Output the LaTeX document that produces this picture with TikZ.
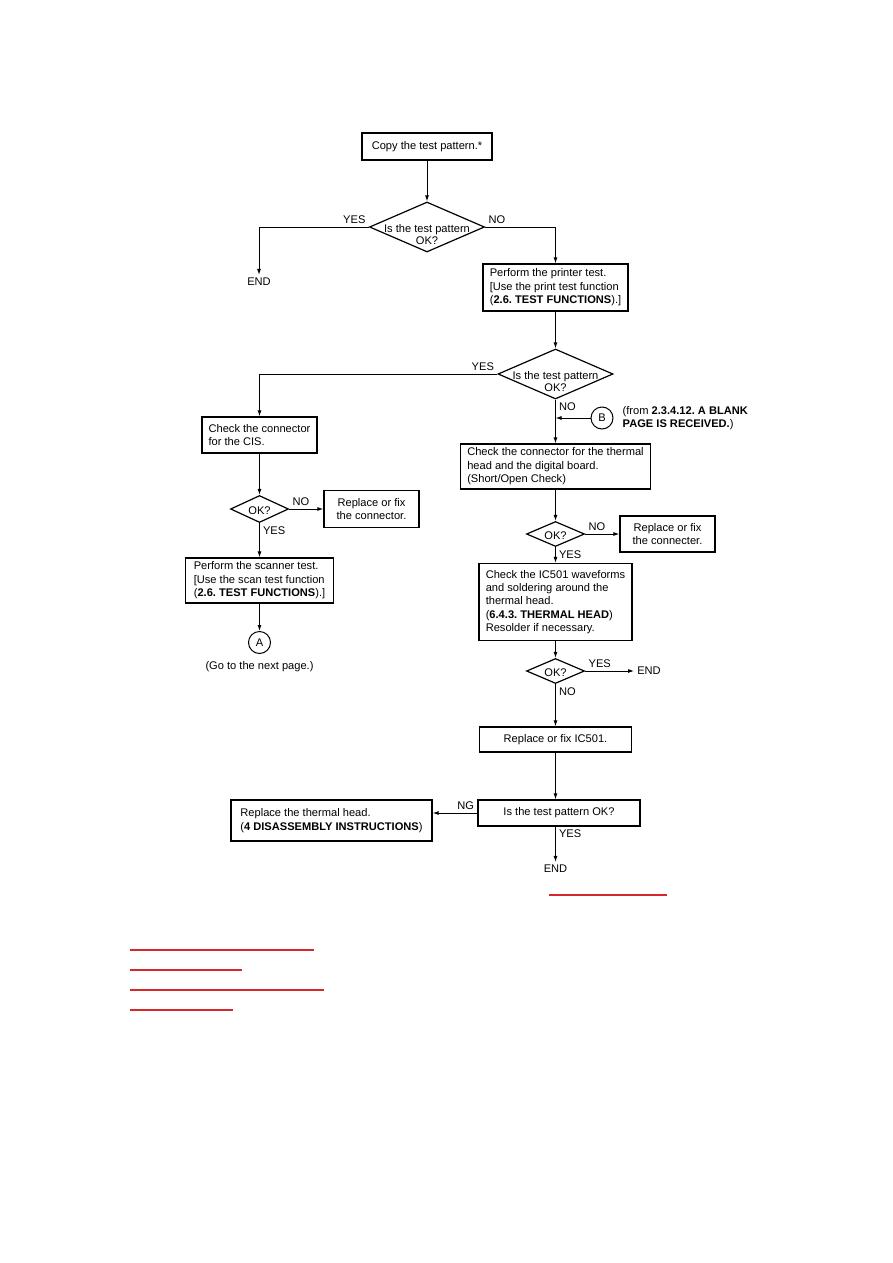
\documentclass[tikz,border=0pt]{standalone}
\usepackage{fontspec}
\setmainfont{Liberation Sans}
\usetikzlibrary{shapes.geometric, positioning, arrows.meta}

\definecolor{linkred}{RGB}{214,40,40}
\newcommand{\dtxt}[1]{\makebox[0pt]{\begin{tabular}[t]{@{}c@{}}#1\end{tabular}}}

\tikzset{
  box/.style={draw, line width=1.2pt, align=left, inner xsep=2pt, inner ysep=2pt},
  cbox/.style={box, align=center},
  decision/.style={draw, diamond, line width=1.2pt, inner sep=0pt, text height=10pt, text depth=0pt},
  conn/.style={draw, circle, line width=1pt, inner sep=0pt, minimum size=22pt},
  lbl/.style={inner sep=3pt},
  flow/.style={->, line width=1pt},
  underline/.style={linkred, line width=1.2pt}
}

\begin{document}
\begin{tikzpicture}[x=1pt, y=-1pt, on grid, >={Latex[length=6pt,width=4pt]},
    font=\fontsize{11.1}{13.4}\selectfont\frenchspacing]
  \useasboundingbox (0,0) rectangle (893,1263);

  % main column
  \node[cbox, minimum width=130pt, minimum height=27pt] (copy) at (427,146.5) {Copy the test pattern.*};
  \node[decision, minimum width=115pt, minimum height=50pt] (dec1) [below=80.5pt of copy] {\dtxt{Is the test pattern\\[-1pt]OK?}};
  \node[lbl] (endA) [below left=55pt and 168pt of dec1] {END};
  \node[box, minimum width=145pt, minimum height=47pt] (print) [below right=60.5pt and 128.5pt of dec1]
    {Perform the printer test.\\{}[Use the print test function\\(\textbf{2.6. TEST FUNCTIONS}).]};
  \node[decision, minimum width=115pt, minimum height=50pt] (dec2) [below=86.5pt of print] {\dtxt{Is the test pattern\\[-1pt]OK?}};
  \node[conn] (conB) [below right=44pt and 46.5pt of dec2] {B};
  \node[lbl, anchor=west, align=left] (fromB) at ([xshift=6pt]conB.east)
    {(from \textbf{2.3.4.12. A BLANK}\\\textbf{PAGE IS RECEIVED.})};
  \node[box, minimum width=190pt, minimum height=45pt] (thermal) [below=92.5pt of dec2]
    {Check the connector for the thermal\\head and the digital board.\\(Short/Open Check)};
  \node[decision, minimum width=58pt, minimum height=25pt] (dec3) [below=67.5pt of thermal] {\dtxt{OK?}};
  \node[cbox, minimum width=95pt, minimum height=36pt] (fixcon) [right=112pt of dec3] {Replace or fix\\the connecter.};
  \node[box, minimum width=153pt, minimum height=77pt] (ic501) [below=68pt of dec3]
    {Check the IC501 waveforms\\and soldering around the\\thermal head.\\(\textbf{6.4.3. THERMAL HEAD})\\Resolder if necessary.};
  \node[decision, minimum width=58pt, minimum height=25pt] (dec4) [below=69pt of ic501] {\dtxt{OK?}};
  \node[lbl] (endB) [right=93.5pt of dec4] {END};
  \node[cbox, minimum width=152pt, minimum height=25pt] (fixic) [below=68.5pt of dec4] {Replace or fix IC501.};
  \node[cbox, minimum width=162pt, minimum height=26pt] (retest) [below right=73.5pt and 3.5pt of fixic] {Is the test pattern OK?};
  \node[lbl] (endC) [below left=56pt and 3.5pt of retest] {END};
  \node[box, minimum width=201pt, minimum height=41pt] (head) [below left=7.5pt and 227.5pt of retest]
    {Replace the thermal head.\\(\textbf{4 DISASSEMBLY INSTRUCTIONS})};

  % left column
  \node[box, minimum width=115pt, minimum height=36pt] (cis) [below left=61pt and 296pt of dec2]
    {Check the connector\\for the CIS.};
  \node[decision, minimum width=58pt, minimum height=27pt] (dec5) [below=74pt of cis] {\dtxt{OK?}};
  \node[cbox, minimum width=95pt, minimum height=37pt] (fixcis) [right=112pt of dec5] {Replace or fix\\the connector.};
  \node[box, minimum width=148pt, minimum height=45pt] (scan) [below=71.5pt of dec5]
    {Perform the scanner test.\\{}[Use the scan test function\\(\textbf{2.6. TEST FUNCTIONS}).]};
  \node[conn] (conA) [below=62pt of scan] {A};
  \node[lbl] (goto) [below=24pt of conA] {(Go to the next page.)};

  % connectors
  \draw[flow] (copy) -- (dec1);
  \draw[flow] (dec1.west) node[lbl, above left] {YES} -| (endA);
  \draw[flow] (dec1.east) node[lbl, above right] {NO} -| (print);
  \draw[flow] (print) -- (dec2);
  \draw[flow] (dec2.west) node[lbl, above left] {YES} -| (cis);
  \draw[flow] (dec2.south) node[lbl, below right] {NO} -- (thermal);
  \draw[flow] (conB.west) -- (conB.west -| dec2.south);
  \draw[flow] (thermal) -- (dec3);
  \draw[flow] (dec3.east) node[lbl, above right] {NO} -- (fixcon);
  \draw[flow] (dec3.south) node[lbl, below right] {YES} -- (ic501);
  \draw[flow] (ic501) -- (dec4);
  \draw[flow] (dec4.east) node[lbl, above right] {YES} -- (endB);
  \draw[flow] (dec4.south) node[lbl, below right] {NO} -- (fixic);
  \draw[flow] (fixic) -- (fixic |- retest.north);
  \draw[flow] (retest.west) node[lbl, above left] {NG} -- (retest.west -| head.east);
  \draw[flow] (retest.south -| endC) node[lbl, below right] {YES} -- (endC);
  \draw[flow] (cis) -- (dec5);
  \draw[flow] (dec5.east) node[lbl, above right] {NO} -- (fixcis);
  \draw[flow] (dec5.south) node[lbl, below right] {YES} -- (scan);
  \draw[flow] (scan) -- (conA);

  % link underlines
  \draw[underline] (549,895) -- (667,895);
  \foreach \y/\xe in {950/314, 970/242, 990/324, 1010/233}
    \draw[underline] (130,\y) -- (\xe,\y);
\end{tikzpicture}
\end{document}
